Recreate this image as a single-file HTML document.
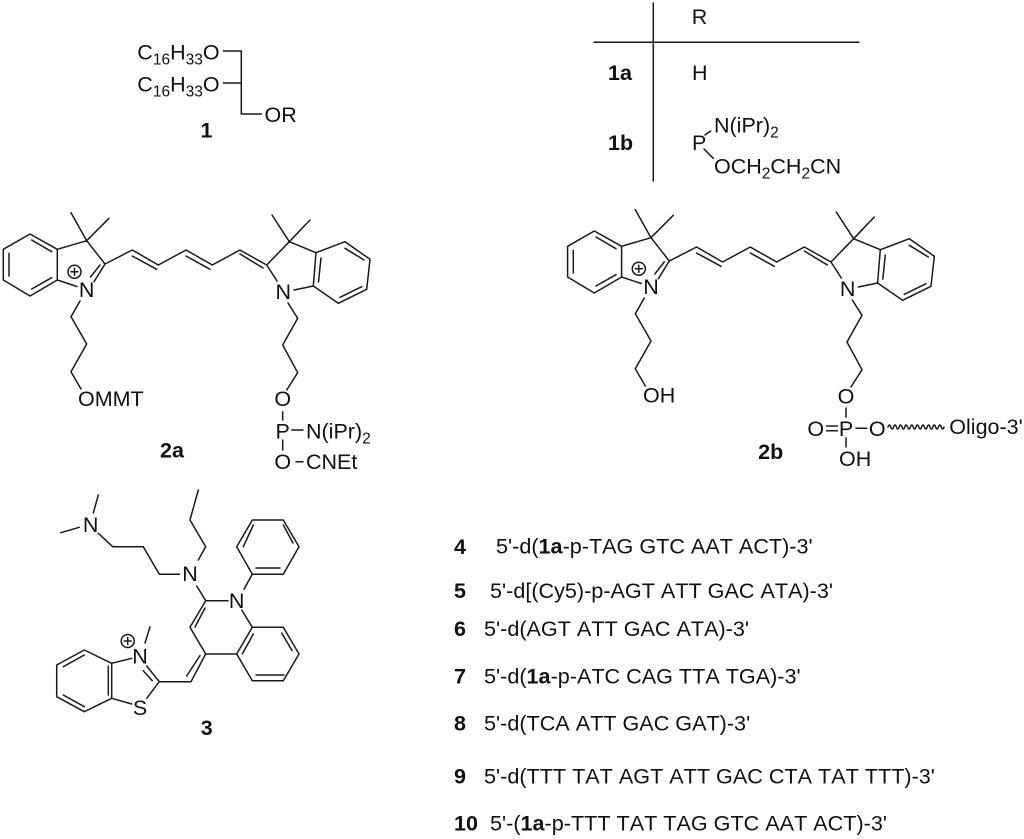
<!DOCTYPE html>
<html>
<head>
<meta charset="utf-8">
<style>
html,body{margin:0;padding:0;background:#fff;}
svg{display:block;}
text{font-family:"Liberation Sans",sans-serif;font-size:21.5px;fill:#111;font-kerning:none;}
text.l{font-size:21.6px;}
.b{font-weight:bold;}
.m{text-anchor:middle;}
line,path,circle{stroke:#1a1a1a;stroke-width:1.5;fill:none;stroke-linecap:round;stroke-linejoin:round;}
</style>
</head>
<body>
<svg width="1024" height="839" viewBox="0 0 1024 839" xmlns="http://www.w3.org/2000/svg">
<defs>
<g id="core">
<path d="M30 234L57.3 249.3L57.3 280L30 296L3.3 280L3.3 249.3Z"/>
<path d="M31.7 240L51.7 251.7M31.7 289L51.7 277.7M9 253.3L9 276"/>
<path d="M57.3 249.3L86.7 240.7L105 264L132.3 250L158.3 265L186 250L212.3 265L240 250L266.7 265L289.3 241.7L316 252.7"/>
<path d="M86.7 240.7L71 212.7M86.7 240.7L109 218.3"/>
<path d="M57.3 280L77 286.5M105 264L94 281.7M100 265L90.5 277"/>
<path d="M132.3 256L156.7 269.3M186 256L210 269.3M240 254L263 268"/>
<path d="M289.3 241.7L272 215M289.3 241.7L310 220"/>
<path d="M266.7 265L277 281M294 290L313.3 286"/>
<path d="M316 252.7L345 241.7L370 259.3L366.7 289.3L338.3 303.3L313.3 286Z"/>
<path d="M321 258L318.5 282M345 248.3L364 260M361.7 286.7L340 297.3"/>
<path d="M80 301L71 316.7L86.7 344L71 371.7L81 389"/>
<path d="M288 303L297.7 318.3L282.7 345L297.7 372.7L286.7 390"/>
<circle cx="74.5" cy="271.7" r="6.5"/>
<path d="M71 271.7H78M74.5 268.2V275.2"/>
</g>
</defs>

<!-- compound 1 -->
<text x="137.3" y="59.5">C<tspan font-size="15.5" dy="5">16</tspan><tspan dy="-5">H</tspan><tspan font-size="15.5" dy="5">33</tspan><tspan dy="-5">O</tspan></text>
<text x="137.3" y="91.5">C<tspan font-size="15.5" dy="5">16</tspan><tspan dy="-5">H</tspan><tspan font-size="15.5" dy="5">33</tspan><tspan dy="-5">O</tspan></text>
<text x="264.5" y="122">OR</text>
<path d="M223.3 51H241.3V114H261.5M223.3 83H241.3"/>
<text class="b m" x="206.5" y="137.5">1</text>

<!-- table -->
<path d="M653.3 3V181M594 42.3H859"/>
<text x="691.7" y="24">R</text>
<text class="b" x="608" y="80">1a</text>
<text x="692" y="80">H</text>
<text class="b" x="608" y="150">1b</text>
<text x="692" y="150">P</text>
<text x="714" y="132.7">N(iPr)<tspan font-size="15.5" dy="5">2</tspan></text>
<text x="714" y="173.3">OCH<tspan font-size="15.5" dy="5">2</tspan><tspan dy="-5">CH</tspan><tspan font-size="15.5" dy="5">2</tspan><tspan dy="-5">CN</tspan></text>
<path d="M705 135L710.7 131M704 149L713.3 158.3"/>

<!-- 2a -->
<use href="#core"/>
<text class="m" x="86.7" y="297">N</text>
<text class="m" x="283.3" y="299">N</text>
<text x="78" y="406">OMMT</text>
<text class="m" x="282.7" y="406">O</text>
<text class="m" x="282.7" y="438.3">P</text>
<text x="306" y="438.3">N(iPr)<tspan font-size="15.5" dy="5">2</tspan></text>
<text class="m" x="282.7" y="469">O</text>
<text x="306" y="469">CNEt</text>
<path d="M282.7 411.7V420M291.7 430H303M282.7 440V450M296 461.7H303"/>
<text class="b m" x="172" y="457.7">2a</text>

<!-- 2b -->
<g transform="translate(564.3,-3)"><use href="#core"/></g>
<text class="m" x="651" y="294">N</text>
<text class="m" x="847.6" y="296">N</text>
<text x="643" y="402.3">OH</text>
<text class="m" x="846" y="403.3">O</text>
<text class="m" x="846" y="436">P</text>
<text class="m" x="815.7" y="436">O</text>
<text class="m" x="877.3" y="436">O</text>
<text x="949.3" y="434">Oligo-3'</text>
<text x="839" y="466">OH</text>
<path d="M846 408V417M826.7 426H837.3M826.7 430.7H837.3M856 428.3H866.7M846 438V447"/>
<path d="M888 427q1.4 -4 2.8 0t2.8 0t2.8 0t2.8 0t2.8 0t2.8 0t2.8 0t2.8 0t2.8 0t2.8 0t2.8 0t2.8 0t2.8 0t2.8 0t2.8 0t2.8 0t2.8 0t2.8 0t2.8 0t2.8 0"/>
<text class="b m" x="770.7" y="459">2b</text>

<!-- compound 3 -->
<text class="m" x="90.7" y="532">N</text>
<text class="m" x="190" y="581">N</text>
<text class="m" x="236.7" y="608">N</text>
<text class="m" x="140" y="663.5">N</text>
<text class="m" x="140" y="715">S</text>
<path d="M98.3 495L93.3 513M60.7 532.7L79.3 527.3"/>
<path d="M98.3 533.3L112.7 546.7H143.3L159.3 574.3H179.3"/>
<path d="M198.3 560L205.7 546.7L190 520L198.3 490"/>
<path d="M196.7 586L205.7 600.7H228M205.7 600.7L190 627.3L205.7 654H236.7L252.3 627.3L241.7 610"/>
<path d="M205 608L195 627"/>
<path d="M252.3 627.3H283.3L299 654L283.3 680.7H252.3L236.7 654"/>
<path d="M281.7 633L292 650.5M284 675H256M242.3 654L253.3 634"/>
<path d="M244 589.3L252.3 574.3H283.3L299 546.7L283.3 520H252.3L236.7 546.7L252.3 574.3"/>
<path d="M256 568H280M283.3 525L293 543M243.3 546.7L253.3 525"/>
<path d="M205.7 654L191 681.7H159.3L146.7 666M200 655.5L186.7 676M152.3 680.7L143.3 670.7"/>
<path d="M159.3 681.7L146.7 698.3"/>
<path d="M131.7 658.3L111.7 663.3L84.3 650L56.7 665V696.7L84.3 711.7L111.7 698.3L131.7 704M111.7 663.3V698.3"/>
<path d="M108.3 666V695M84.3 655L63.3 666.7M63.3 695L84.3 706.7"/>
<path d="M145 643L150 626.7"/>
<circle cx="127.7" cy="641" r="6.5"/>
<path d="M124.2 641H131.2M127.7 637.5V644.5"/>
<text class="b m" x="206.7" y="735">3</text>

<!-- list -->
<text class="b" x="454" y="554">4</text>
<text class="l" x="496" y="553.5">5'-d(<tspan class="b">1a</tspan>-p-TAG GTC AAT ACT)-3'</text>
<text class="b" x="454" y="598">5</text>
<text class="l" x="490" y="598">5'-d[(Cy5)-p-AGT ATT GAC ATA)-3'</text>
<text class="b" x="454" y="636">6</text>
<text class="l" x="484" y="636">5'-d(AGT ATT GAC ATA)-3'</text>
<text class="b" x="454" y="683.3">7</text>
<text class="l" x="484" y="683.3">5'-d(<tspan class="b">1a</tspan>-p-ATC CAG TTA TGA)-3'</text>
<text class="b" x="454" y="730.7">8</text>
<text class="l" x="484" y="730.7">5'-d(TCA ATT GAC GAT)-3'</text>
<text class="b" x="454" y="783.3">9</text>
<text class="l" x="484" y="783.3">5'-d(TTT TAT AGT ATT GAC CTA TAT TTT)-3'</text>
<text class="b" x="454" y="830.7">10</text>
<text class="l" x="490" y="830.7">5'-(<tspan class="b">1a</tspan>-p-TTT TAT TAG GTC AAT ACT)-3'</text>
</svg>
</body>
</html>
